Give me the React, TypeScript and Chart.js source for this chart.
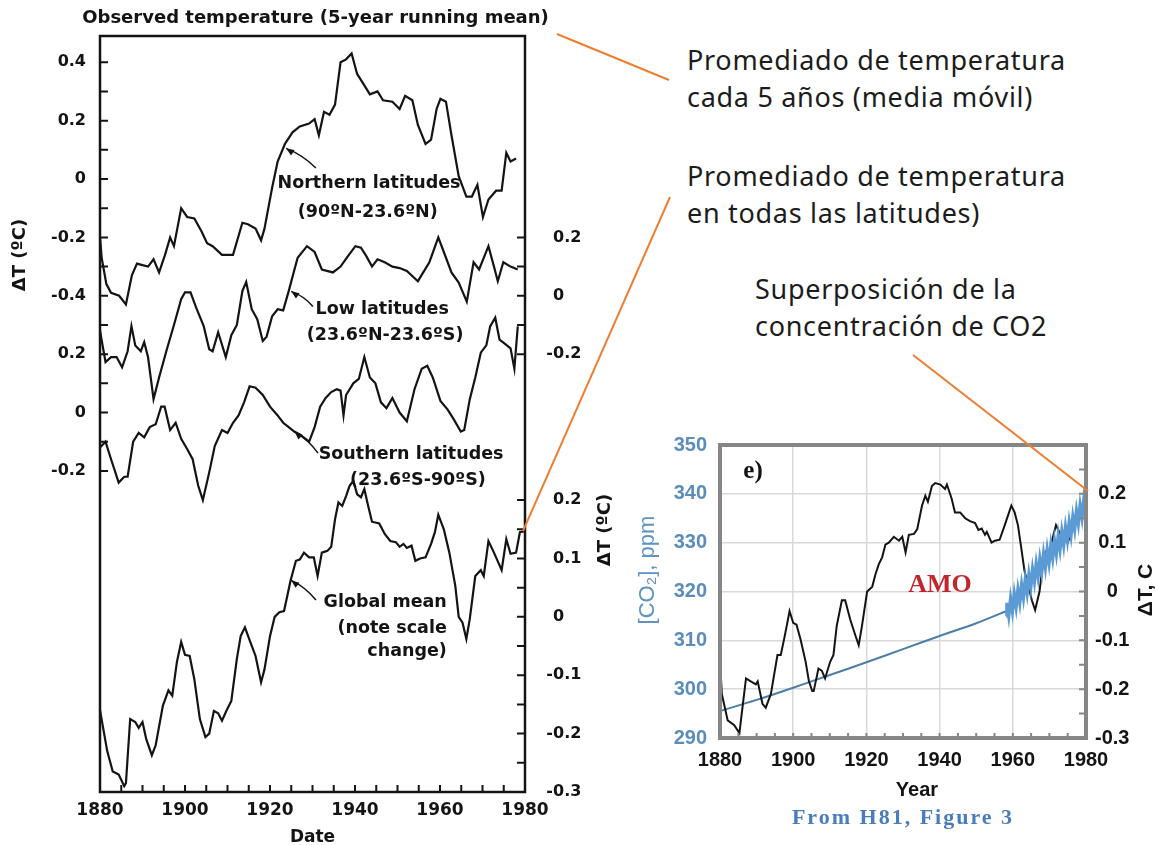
import React, { useEffect, useRef } from 'react';
import { Chart, registerables } from 'chart.js';

Chart.register(...registerables);

// ---------------- Left chart: observed temperature (5-year running mean) ----------------
const northYears = [
  1880, 1880.4, 1881.5, 1882.6, 1884.5, 1886.1, 1887.5, 1888.7, 1890.0, 1891.3,
  1892.6, 1893.9, 1895.3, 1896.5, 1897.4, 1899.1, 1900.5, 1902.2, 1903.9, 1905.2,
  1906.5, 1908.7, 1911.3, 1913.5, 1914.8, 1916.6, 1917.9, 1918.7, 1920.5, 1921.8,
  1923.5, 1925.3, 1927.0, 1929.2, 1930.5, 1931.5, 1932.7, 1934.0, 1935.3, 1936.6,
  1937.9, 1939.2, 1940.5, 1941.8, 1943.5, 1945.3, 1946.6, 1948.8, 1950.5, 1951.8,
  1953.5, 1954.8, 1956.6, 1957.9, 1959.2, 1960.1, 1961.4, 1962.7, 1964.4, 1966.2,
  1967.5, 1968.8, 1970.1, 1971.4, 1973.2, 1974.5, 1975.6, 1976.6, 1977.9,
];
const northValues = [
  -0.20, -0.27, -0.36, -0.39, -0.40, -0.43, -0.33, -0.29, -0.295, -0.30,
  -0.275, -0.32, -0.26, -0.20, -0.23, -0.10, -0.13, -0.135, -0.18, -0.22,
  -0.23, -0.26, -0.26, -0.15, -0.155, -0.17, -0.21, -0.17, -0.03, 0.06,
  0.12, 0.16, 0.18, 0.19, 0.205, 0.15, 0.23, 0.22, 0.255, 0.40,
  0.41, 0.43, 0.36, 0.33, 0.29, 0.30, 0.27, 0.265, 0.24, 0.285,
  0.27, 0.185, 0.12, 0.135, 0.24, 0.275, 0.265, 0.15, 0.01, -0.06,
  -0.06, -0.02, -0.13, -0.07, -0.04, -0.04, 0.09, 0.06, 0.07,
];

const lowYears = [
  1880, 1881.3, 1882.6, 1883.9, 1885.2, 1886.5, 1887.4, 1888.3, 1889.6, 1890.4,
  1891.3, 1892.6, 1893.9, 1895.7, 1897.4, 1899.1, 1900.0, 1901.3, 1902.6, 1904.4,
  1905.7, 1906.5, 1907.8, 1909.6, 1910.9, 1912.2, 1913.5, 1914.4, 1915.7, 1917.0,
  1918.3, 1919.2, 1920.5, 1921.8, 1923.1, 1924.4, 1926.5, 1928.7, 1930.5, 1932.2,
  1934.8, 1936.6, 1938.3, 1940.1, 1941.4, 1942.7, 1944.0, 1945.3, 1947.0, 1948.8,
  1950.5, 1952.2, 1954.8, 1957.5, 1959.6, 1960.9, 1962.7, 1964.4, 1966.3, 1967.9,
  1969.2, 1971.4, 1972.7, 1973.6, 1974.9, 1976.6, 1978.3,
];
const lowValues = [
  -0.12, -0.227, -0.21, -0.21, -0.245, -0.19, -0.104, -0.17, -0.19, -0.159,
  -0.21, -0.354, -0.28, -0.185, -0.10, -0.012, 0.012, 0.012, -0.04, -0.104,
  -0.183, -0.19, -0.125, -0.21, -0.135, -0.10, 0.016, 0.047, -0.046, -0.08,
  -0.155, -0.14, -0.07, -0.046, -0.05, 0.016, 0.13, 0.17, 0.15, 0.09,
  0.08, 0.10, 0.135, 0.17, 0.165, 0.135, 0.10, 0.125, 0.115, 0.10,
  0.095, 0.085, 0.05, 0.115, 0.20, 0.15, 0.08, 0.045, -0.02, 0.115,
  0.09, 0.17, 0.10, 0.05, 0.115, 0.10, 0.09,
];

const southYears = [
  1880, 1881.3, 1882.6, 1884.4, 1885.7, 1886.5, 1887.8, 1889.1, 1890.4, 1891.7,
  1893.1, 1894.4, 1895.2, 1896.5, 1897.8, 1899.1, 1900.5, 1901.8, 1903.1, 1904.2,
  1905.7, 1907.0, 1908.7, 1910.0, 1911.3, 1912.6, 1913.9, 1915.2, 1916.6, 1918.3,
  1920.0, 1921.8, 1923.1, 1924.4, 1925.7, 1927.0, 1929.2, 1930.5, 1931.8, 1933.1,
  1934.4, 1935.7, 1936.6, 1937.3, 1937.9, 1939.6, 1940.9, 1942.2, 1943.5, 1944.8,
  1946.1, 1947.4, 1948.8, 1950.5, 1952.2, 1954.0, 1955.7, 1957.0, 1958.3, 1960.1,
  1961.8, 1963.1, 1964.9, 1965.7, 1967.0, 1968.3, 1969.6, 1970.9, 1971.8, 1973.0,
  1974.0, 1975.3, 1976.6, 1977.5, 1978.3,
];
const southValues = [
  -0.12, -0.10, -0.16, -0.24, -0.22, -0.22, -0.10, -0.07, -0.085, -0.05,
  -0.04, 0.02, 0.02, -0.06, -0.035, -0.09, -0.125, -0.16, -0.25, -0.30,
  -0.205, -0.115, -0.06, -0.07, -0.035, -0.01, 0.035, 0.09, 0.085, 0.06,
  0.02, -0.01, -0.035, -0.05, -0.065, -0.075, -0.10, -0.05, 0.02, 0.05,
  0.07, 0.08, 0.075, -0.01, 0.06, 0.10, 0.115, 0.19, 0.12, 0.10,
  0.035, 0.015, 0.05, 0.0, -0.03, 0.08, 0.15, 0.16, 0.12, 0.04,
  0.01, -0.02, -0.065, -0.06, 0.045, 0.12, 0.205, 0.23, 0.295, 0.325,
  0.25, 0.235, 0.22, 0.15, 0.295,
];

const globalYears = [
  1880, 1881.7, 1883.0, 1884.4, 1885.7, 1886.1, 1887.1, 1888.3, 1889.1, 1890.0,
  1890.9, 1892.2, 1893.1, 1894.8, 1896.1, 1897.0, 1898.1, 1899.1, 1900.0, 1901.1,
  1902.2, 1903.5, 1904.8, 1905.7, 1906.8, 1907.8, 1908.7, 1909.8, 1910.9, 1912.2,
  1913.1, 1914.1, 1915.2, 1916.6, 1917.9, 1918.7, 1920.0, 1921.1, 1922.2, 1923.3,
  1923.9, 1924.8, 1926.1, 1927.0, 1928.0, 1929.2, 1930.3, 1931.2, 1932.2, 1933.5,
  1934.4, 1935.3, 1936.1, 1937.0, 1937.9, 1938.7, 1939.6, 1940.5, 1941.4, 1942.2,
  1943.1, 1944.0, 1945.7, 1947.0, 1948.3, 1949.6, 1950.5, 1951.4, 1952.2, 1953.3,
  1954.2, 1955.3, 1956.6, 1957.9, 1958.8, 1959.6, 1960.9, 1962.2, 1963.6, 1964.4,
  1965.3, 1966.2, 1967.0, 1968.3, 1969.6, 1970.3, 1971.4, 1972.7, 1974.5, 1975.6,
  1976.6, 1977.9, 1978.8, 1980.0,
];
const globalValues = [
  -0.16, -0.23, -0.265, -0.27, -0.29, -0.285, -0.175, -0.18, -0.19, -0.18,
  -0.21, -0.237, -0.22, -0.152, -0.126, -0.135, -0.077, -0.043, -0.065, -0.067,
  -0.107, -0.175, -0.206, -0.20, -0.161, -0.165, -0.178, -0.16, -0.144, -0.072,
  -0.033, -0.018, -0.04, -0.067, -0.112, -0.09, -0.033, 0.0, 0.008, 0.01,
  0.03, 0.061, 0.096, 0.098, 0.11, 0.102, 0.102, 0.07, 0.11, 0.113,
  0.12, 0.167, 0.196, 0.19, 0.207, 0.224, 0.233, 0.21, 0.205, 0.219,
  0.19, 0.163, 0.16, 0.142, 0.13, 0.128, 0.12, 0.125, 0.118, 0.122,
  0.096, 0.10, 0.102, 0.125, 0.145, 0.175, 0.15, 0.11, 0.053, 0.0,
  -0.01, -0.038, -0.004, 0.07, 0.08, 0.07, 0.13, 0.11, 0.08, 0.133,
  0.108, 0.11, 0.145, 0.147,
];

// stacking of the four curves on one common axis (northern-latitude units)
const northOffset = 0;
const lowOffset = -0.4;
const southOffset = -0.8;
const globalOffset = -1.5;
const globalFactor = 2; // "note scale change"
const axisMin = -2.1;
const axisMax = 0.49;

const xTickYears = [1880, 1885, 1890, 1895, 1900, 1905, 1910, 1915, 1920, 1925, 1930, 1935, 1940, 1945, 1950, 1955, 1960, 1965, 1970, 1975, 1980];
const xLabelYears = [1880, 1900, 1920, 1940, 1960, 1980];

const northTicks = [0.4, 0.3, 0.2, 0.1, 0, -0.1, -0.2, -0.3, -0.4];
const northTickLabels = ['0.4', '', '0.2', '', '0', '', '-0.2', '', '-0.4'];
const southTicks = [0.3, 0.2, 0.1, 0, -0.1, -0.2];
const southTickLabels = ['', '0.2', '', '0', '', '-0.2'];
const lowTicks = [0.2, 0.1, 0, -0.1, -0.2];
const lowTickLabels = ['0.2', '', '0', '', '-0.2'];
const globalTicks = [0.2, 0.15, 0.1, 0.05, 0, -0.05, -0.1, -0.15, -0.2, -0.25, -0.3];
const globalTickLabels = ['0.2', '', '0.1', '', '0', '', '-0.1', '', '-0.2', '', '-0.3'];

// ---------------- Inset (e): H81 Figure 3 with CO2 ----------------
const insetTempYears = [
  1880.0, 1880.5, 1882.1, 1883.9, 1885.3, 1887.1, 1888.4, 1889.8, 1890.3, 1891.6,
  1892.5, 1893.9, 1894.8, 1895.7, 1896.6, 1897.5, 1898.4, 1899.0, 1900.0, 1900.9,
  1902.0, 1903.4, 1904.3, 1905.2, 1905.6, 1906.9, 1907.8, 1908.7, 1910.1, 1911.0,
  1911.9, 1913.3, 1914.2, 1915.6, 1917.0, 1917.9, 1918.8, 1920.2, 1921.6, 1922.5,
  1923.4, 1924.3, 1925.2, 1926.1, 1927.5, 1928.9, 1929.8, 1930.7, 1931.6, 1933.0,
  1933.9, 1935.2, 1936.1, 1936.8, 1937.9, 1938.8, 1940.2, 1941.5, 1942.0, 1943.3,
  1944.2, 1945.6, 1947.0, 1948.3, 1949.7, 1950.6, 1951.5, 1952.4, 1952.9, 1954.2,
  1955.1, 1956.4, 1957.8, 1958.7, 1959.6, 1960.5, 1961.4, 1962.3, 1963.2, 1964.1,
  1965.2, 1966.1, 1967.3, 1968.2, 1969.1, 1970.0, 1970.9, 1971.8, 1972.7, 1973.6,
  1975.0, 1976.5, 1978.0,
];
const insetTempValues = [
  -0.14, -0.21, -0.264, -0.274, -0.29, -0.178, -0.184, -0.19, -0.184, -0.23,
  -0.238, -0.21, -0.17, -0.13, -0.13, -0.098, -0.064, -0.04, -0.064, -0.068,
  -0.098, -0.144, -0.184, -0.204, -0.204, -0.158, -0.162, -0.178, -0.144, -0.13,
  -0.07, -0.018, -0.018, -0.058, -0.09, -0.11, -0.07, 0.0, 0.01, 0.036,
  0.056, 0.07, 0.096, 0.1, 0.112, 0.104, 0.112, 0.08, 0.116, 0.118,
  0.128, 0.176, 0.196, 0.184, 0.216, 0.222, 0.219, 0.21, 0.219, 0.19,
  0.162, 0.162, 0.15, 0.144, 0.14, 0.126, 0.129, 0.116, 0.122, 0.1,
  0.104, 0.106, 0.136, 0.156, 0.176, 0.162, 0.136, 0.09, 0.042, 0.016,
  -0.018, -0.038, 0.0, 0.056, 0.082, 0.082, 0.11, 0.136, 0.122, 0.11,
  0.10, 0.13, 0.15,
];

const co2Years = [1880, 1890, 1900, 1910, 1920, 1930, 1940, 1950, 1958.3];
const co2Values = [295.5, 297.8, 300.3, 302.9, 305.5, 308.2, 310.9, 313.5, 316.0];

const co2MaunaYears = [
  1958.2, 1958.4, 1958.9, 1959.4, 1959.9, 1960.4, 1960.9, 1961.4, 1961.9, 1962.4,
  1962.9, 1963.4, 1963.9, 1964.4, 1964.9, 1965.4, 1965.9, 1966.4, 1966.9, 1967.4,
  1967.9, 1968.4, 1968.9, 1969.4, 1969.9, 1970.4, 1970.9, 1971.4, 1971.9, 1972.4,
  1972.9, 1973.4, 1973.9, 1974.4, 1974.9, 1975.4, 1975.9, 1976.4, 1976.9, 1977.4,
  1977.9, 1978.4, 1978.9, 1979.4, 1979.9, 1980.0,
];
const co2MaunaValues = [
  315.0, 317.7, 315.1, 318.5, 316.0, 319.4, 316.9, 320.3, 317.8, 321.3,
  318.8, 322.3, 319.8, 323.4, 320.9, 324.5, 322.1, 325.6, 323.1, 326.6,
  324.1, 327.6, 325.0, 328.5, 325.9, 329.4, 326.9, 330.3, 327.8, 331.3,
  328.7, 332.2, 329.6, 333.1, 330.6, 334.1, 331.6, 335.2, 332.8, 336.4,
  334.0, 337.6, 335.2, 338.7, 336.3, 339.0,
];

const insetYearTicks = [1880, 1885, 1890, 1895, 1900, 1905, 1910, 1915, 1920, 1925, 1930, 1935, 1940, 1945, 1950, 1955, 1960, 1965, 1970, 1975, 1980];
const insetYearLabels = [1880, 1900, 1920, 1940, 1960, 1980];
const co2Ticks = [290, 300, 310, 320, 330, 340, 350];
const insetTempTicks = [-0.3, -0.25, -0.2, -0.15, -0.1, -0.05, 0, 0.05, 0.1, 0.15, 0.2, 0.25, 0.3];
const insetTempTickLabels = ['-0.3', '', '-0.2', '', '-0.1', '', '0', '', '0.1', '', '0.2', '', ''];

// ---------------- helpers ----------------
const DEJAVU = '"DejaVu Sans", "Liberation Sans", sans-serif';
const ARIAL = '"Liberation Sans", Arial, sans-serif';
const SERIF = '"Liberation Serif", "DejaVu Serif", serif';
const INK = '#141414';

function pts(years: number[], values: number[], offset = 0, factor = 1) {
  return years.map((x, i) => ({ x, y: offset + factor * values[i] }));
}

function key(v: number) {
  return (Math.abs(v) < 1e-9 ? 0 : v).toFixed(3);
}

function drawArrow(ctx: CanvasRenderingContext2D, x1: number, y1: number, x2: number, y2: number) {
  ctx.beginPath();
  ctx.moveTo(x1, y1);
  ctx.quadraticCurveTo((x1 + x2) / 2 + 2, (y1 + y2) / 2 - 3, x2, y2);
  ctx.stroke();
  const ang = Math.atan2(y2 - y1, x2 - x1);
  const L = 8;
  const W = 3.2;
  ctx.beginPath();
  ctx.moveTo(x2, y2);
  ctx.lineTo(x2 - L * Math.cos(ang) + W * Math.sin(ang), y2 - L * Math.sin(ang) - W * Math.cos(ang));
  ctx.lineTo(x2 - L * Math.cos(ang) - W * Math.sin(ang), y2 - L * Math.sin(ang) + W * Math.cos(ang));
  ctx.closePath();
  ctx.fill();
}

function buildLeftChart(canvas: HTMLCanvasElement) {
  const leftMap = new Map<string, string>();
  northTicks.forEach((v, i) => leftMap.set(key(northOffset + v), northTickLabels[i]));
  southTicks.forEach((v, i) => leftMap.set(key(southOffset + v), southTickLabels[i]));
  const leftValues = Array.from(leftMap.keys()).map(Number).sort((a, b) => a - b);

  const rightItems: { value: number; label: string }[] = [];
  lowTicks.forEach((v, i) => rightItems.push({ value: lowOffset + v, label: lowTickLabels[i] }));
  globalTicks.forEach((v, i) => rightItems.push({ value: globalOffset + globalFactor * v, label: globalTickLabels[i] }));
  rightItems.sort((a, b) => a.value - b.value);

  const lineStyle = { borderColor: INK, borderWidth: 2.2, pointRadius: 0, fill: false, tension: 0 };

  const decor = {
    id: 'leftDecor',
    afterDraw(chart: any) {
      const { ctx, chartArea: a, scales } = chart;
      const xs = scales.x;
      const ys = scales.y;
      const y2 = scales.y2;
      const px = (v: number) => xs.getPixelForValue(v);
      const py = (v: number) => ys.getPixelForValue(v);
      ctx.save();
      ctx.strokeStyle = INK;
      ctx.fillStyle = INK;
      // frame
      ctx.lineWidth = 2.5;
      ctx.strokeRect(a.left, a.top, a.right - a.left, a.bottom - a.top);
      // inward tick marks
      ctx.lineWidth = 2;
      ctx.beginPath();
      ys.ticks.forEach((t: any) => {
        const y = ys.getPixelForValue(t.value);
        ctx.moveTo(a.left, y);
        ctx.lineTo(a.left + 8, y);
      });
      y2.ticks.forEach((t: any) => {
        const y = y2.getPixelForValue(t.value);
        ctx.moveTo(a.right, y);
        ctx.lineTo(a.right - 8, y);
      });
      xs.ticks.forEach((t: any) => {
        const x = xs.getPixelForValue(t.value);
        ctx.moveTo(x, a.bottom);
        ctx.lineTo(x, a.bottom - 7);
      });
      ctx.stroke();

      // right-hand tick labels (digits aligned, minus hanging)
      ctx.font = `bold 16px ${DEJAVU}`;
      ctx.textAlign = 'left';
      ctx.textBaseline = 'middle';
      const minusW = ctx.measureText('-').width;
      rightItems.forEach((it) => {
        if (!it.label) return;
        let x = a.right + 28;
        if (it.label.startsWith('-')) x -= minusW;
        ctx.fillText(it.label, x, y2.getPixelForValue(it.value));
      });

      // title
      ctx.font = `bold 18px ${DEJAVU}`;
      ctx.textAlign = 'center';
      ctx.fillText('Observed temperature (5-year running mean)', (a.left + a.right) / 2 + 3, 18);

      // axis titles
      ctx.font = `bold 17px ${DEJAVU}`;
      ctx.fillText('Date', (a.left + a.right) / 2, 838);
      ctx.save();
      ctx.translate(20, 255);
      ctx.rotate(-Math.PI / 2);
      ctx.font = `bold 18px ${DEJAVU}`;
      ctx.fillText('ΔT (ºC)', 0, 0);
      ctx.restore();
      ctx.save();
      ctx.translate(a.right + 80, 530);
      ctx.rotate(-Math.PI / 2);
      ctx.font = `bold 18px ${DEJAVU}`;
      ctx.fillText('ΔT (ºC)', 0, 0);
      ctx.restore();

      // curve annotations
      ctx.font = `bold 17.5px ${DEJAVU}`;
      ctx.textAlign = 'center';
      ctx.fillText('Northern latitudes', px(1943.3), py(-0.014));
      ctx.fillText('(90ºN-23.6ºN)', px(1943.0), py(-0.113));
      ctx.fillText('Low latitudes', px(1946.4), py(-0.448));
      ctx.fillText('(23.6ºN-23.6ºS)', px(1947.1), py(-0.537));
      ctx.fillText('Southern latitudes', px(1953.2), py(-0.945));
      ctx.fillText('(23.6ºS-90ºS)', px(1954.8), py(-1.031));
      ctx.textAlign = 'right';
      ctx.fillText('Global mean', px(1961.6), py(-1.449));
      ctx.fillText('(note scale', px(1961.6), py(-1.538));
      ctx.fillText('change)', px(1961.6), py(-1.62));

      ctx.lineWidth = 1.5;
      drawArrow(ctx, px(1930.8), py(0.038), px(1923.8), py(0.105));
      drawArrow(ctx, px(1930.1), py(-0.437), px(1925.0), py(-0.385));
      drawArrow(ctx, px(1931.3), py(-0.939), px(1925.8), py(-0.866));
      drawArrow(ctx, px(1930.8), py(-1.442), px(1925.0), py(-1.375));
      ctx.restore();
    },
  };

  return new Chart(canvas, {
    type: 'line',
    data: {
      datasets: [
        { label: 'Northern latitudes (90ºN-23.6ºN)', data: pts(northYears, northValues, northOffset), yAxisID: 'y', ...lineStyle },
        { label: 'Low latitudes (23.6ºN-23.6ºS)', data: pts(lowYears, lowValues, lowOffset), yAxisID: 'y', ...lineStyle },
        { label: 'Southern latitudes (23.6ºS-90ºS)', data: pts(southYears, southValues, southOffset), yAxisID: 'y', ...lineStyle },
        { label: 'Global mean', data: pts(globalYears, globalValues, globalOffset, globalFactor), yAxisID: 'y', ...lineStyle },
      ],
    },
    options: {
      responsive: false,
      animation: false,
      devicePixelRatio: 1,
      layout: { padding: { top: 36, left: 0, right: 0, bottom: 0 } },
      plugins: { legend: { display: false }, tooltip: { enabled: false }, title: { display: false } },
      scales: {
        x: {
          type: 'linear',
          min: 1880,
          max: 1980,
          afterBuildTicks: (s: any) => { s.ticks = xTickYears.map((value) => ({ value })); },
          afterFit: (s: any) => { s.height = 53; },
          ticks: {
            callback: (v: any) => (xLabelYears.includes(Number(v)) ? String(v) : ''),
            font: { family: DEJAVU, size: 17, weight: 'bold' },
            color: INK,
            padding: 8,
            maxRotation: 0,
            autoSkip: false,
          },
          grid: { display: false, drawTicks: false },
          border: { display: false },
        },
        y: {
          type: 'linear',
          position: 'left',
          min: axisMin,
          max: axisMax,
          afterBuildTicks: (s: any) => { s.ticks = leftValues.map((value) => ({ value })); },
          afterFit: (s: any) => { s.width = 100; },
          ticks: {
            callback: (v: any) => leftMap.get(key(Number(v))) ?? '',
            font: { family: DEJAVU, size: 16, weight: 'bold' },
            color: INK,
            padding: 14,
            autoSkip: false,
          },
          grid: { display: false, drawTicks: false },
          border: { display: false },
        },
        y2: {
          type: 'linear',
          position: 'right',
          min: axisMin,
          max: axisMax,
          afterBuildTicks: (s: any) => { s.ticks = rightItems.map((it) => ({ value: it.value })); },
          afterFit: (s: any) => { s.width = 115; },
          ticks: { display: false, autoSkip: false },
          grid: { display: false, drawTicks: false },
          border: { display: false },
        },
      },
    } as any,
    plugins: [decor],
  } as any);
}

function buildInsetChart(canvas: HTMLCanvasElement) {
  const tempMap = new Map<string, string>();
  insetTempTicks.forEach((v, i) => tempMap.set(key(v), insetTempTickLabels[i]));
  const GRAY = '#868686';

  const decor = {
    id: 'insetDecor',
    afterDatasetsDraw(chart: any) {
      const { ctx, chartArea: a, scales } = chart;
      ctx.save();
      ctx.strokeStyle = GRAY;
      ctx.lineWidth = 2;
      ctx.beginPath();
      scales.y2.ticks.forEach((t: any) => {
        const y = scales.y2.getPixelForValue(t.value);
        ctx.moveTo(a.right, y);
        ctx.lineTo(a.right - 7, y);
      });
      scales.x.ticks.forEach((t: any) => {
        const x = scales.x.getPixelForValue(t.value);
        ctx.moveTo(x, a.bottom);
        ctx.lineTo(x, a.bottom - 5);
      });
      ctx.stroke();
      ctx.lineWidth = 4;
      ctx.strokeRect(a.left, a.top, a.right - a.left, a.bottom - a.top);
      ctx.restore();
    },
    afterDraw(chart: any) {
      const { ctx, chartArea: a } = chart;
      ctx.save();
      ctx.textAlign = 'center';
      ctx.textBaseline = 'middle';
      // panel letter and AMO label
      ctx.fillStyle = INK;
      ctx.font = `bold 25px ${SERIF}`;
      ctx.fillText('e)', a.left + 33, a.top + 27);
      ctx.fillStyle = '#c0272d';
      ctx.font = `bold 26px ${SERIF}`;
      ctx.fillText('AMO', a.left + 220, a.top + 140);
      // axis titles
      ctx.fillStyle = INK;
      ctx.font = `bold 20px ${ARIAL}`;
      ctx.fillText('Year', a.left + 197, a.bottom + 52);
      ctx.save();
      ctx.translate(a.right + 60, a.top + 145);
      ctx.rotate(-Math.PI / 2);
      ctx.font = `bold 21px ${ARIAL}`;
      ctx.fillText('ΔT, C', 0, 0);
      ctx.restore();
      ctx.save();
      ctx.translate(28, a.top + 125);
      ctx.rotate(-Math.PI / 2);
      ctx.fillStyle = '#5f92c0';
      ctx.font = `22px ${ARIAL}`;
      ctx.fillText('[CO₂], ppm', 0, 0);
      ctx.restore();
      // caption
      ctx.fillStyle = '#4a7ebb';
      ctx.font = `bold 22px ${SERIF}`;
      (ctx as any).letterSpacing = '2px';
      ctx.fillText('From H81, Figure 3', a.left + 183, a.bottom + 80);
      ctx.restore();
    },
  };

  return new Chart(canvas, {
    type: 'line',
    data: {
      datasets: [
        { label: 'CO2 Mauna Loa', data: pts(co2MaunaYears, co2MaunaValues), yAxisID: 'y', borderColor: '#5b9bd5', borderWidth: 3.5, pointRadius: 0, tension: 0, order: 0 },
        { label: 'ΔT, C', data: pts(insetTempYears, insetTempValues), yAxisID: 'y2', borderColor: INK, borderWidth: 2, pointRadius: 0, tension: 0, order: 1 },
        { label: '[CO2], ppm', data: pts(co2Years, co2Values), yAxisID: 'y', borderColor: '#4d7fa6', borderWidth: 2, pointRadius: 0, tension: 0.3, order: 2 },
      ],
    },
    options: {
      responsive: false,
      animation: false,
      devicePixelRatio: 1,
      layout: { padding: { top: 19, left: 0, right: 0, bottom: 0 } },
      plugins: { legend: { display: false }, tooltip: { enabled: false }, title: { display: false } },
      scales: {
        x: {
          type: 'linear',
          min: 1880,
          max: 1980,
          afterBuildTicks: (s: any) => { s.ticks = insetYearTicks.map((value) => ({ value })); },
          afterFit: (s: any) => { s.height = 107; },
          ticks: {
            callback: (v: any) => (insetYearLabels.includes(Number(v)) ? String(v) : ''),
            font: { family: ARIAL, size: 20, weight: 'bold' },
            color: INK,
            padding: 10,
            maxRotation: 0,
            autoSkip: false,
          },
          grid: {
            drawTicks: false,
            lineWidth: 1.5,
            color: (c: any) => (c.tick && Number(c.tick.value) % 20 === 0 ? '#d9d9d9' : 'rgba(0,0,0,0)'),
          },
          border: { display: false },
        },
        y: {
          type: 'linear',
          position: 'left',
          min: 290,
          max: 350,
          afterBuildTicks: (s: any) => { s.ticks = co2Ticks.map((value) => ({ value })); },
          afterFit: (s: any) => { s.width = 100; },
          ticks: {
            font: { family: ARIAL, size: 20, weight: 'bold' },
            color: '#5b8dbb',
            padding: 13,
            autoSkip: false,
          },
          grid: { drawTicks: false, lineWidth: 1.5, color: '#d9d9d9' },
          border: { display: false },
        },
        y2: {
          type: 'linear',
          position: 'right',
          min: -0.3,
          max: 0.3,
          afterBuildTicks: (s: any) => { s.ticks = insetTempTicks.map((value) => ({ value })); },
          afterFit: (s: any) => { s.width = 69; },
          ticks: {
            callback: (v: any) => tempMap.get(key(Number(v))) ?? '',
            font: { family: ARIAL, size: 20, weight: 'bold' },
            color: INK,
            padding: 9,
            crossAlign: 'center',
            autoSkip: false,
          },
          grid: { display: false, drawTicks: false },
          border: { display: false },
        },
      },
    } as any,
    plugins: [decor],
  } as any);
}

const noteStyle: React.CSSProperties = {
  position: 'absolute',
  fontFamily: '"Noto Sans", "Open Sans", sans-serif',
  fontSize: 27,
  lineHeight: '37px',
  letterSpacing: '0.7px',
  color: '#1c1c1c',
  whiteSpace: 'nowrap',
};

export default function App() {
  const leftRef = useRef<HTMLCanvasElement>(null);
  const insetRef = useRef<HTMLCanvasElement>(null);

  useEffect(() => {
    document.body.style.margin = '0';
    const c1 = buildLeftChart(leftRef.current as HTMLCanvasElement);
    const c2 = buildInsetChart(insetRef.current as HTMLCanvasElement);
    return () => {
      c1.destroy();
      c2.destroy();
    };
  }, []);

  return (
    <div style={{ position: 'relative', width: 1155, height: 845, overflow: 'hidden', background: '#ffffff' }}>
      <canvas ref={leftRef} width={640} height={845} style={{ position: 'absolute', left: 0, top: 0 }} />
      <canvas ref={insetRef} width={535} height={425} style={{ position: 'absolute', left: 620, top: 420 }} />
      <div style={{ ...noteStyle, left: 687, top: 41 }}>
        Promediado de temperatura
        <br />
        cada 5 años (media móvil)
      </div>
      <div style={{ ...noteStyle, left: 687, top: 157 }}>
        Promediado de temperatura
        <br />
        en todas las latitudes)
      </div>
      <div style={{ ...noteStyle, left: 755, top: 270 }}>
        Superposición de la
        <br />
        concentración de CO2
      </div>
      <svg width={1155} height={845} style={{ position: 'absolute', left: 0, top: 0, pointerEvents: 'none' }}>
        <line x1={557} y1={34} x2={669} y2={80} stroke="#ed7d31" strokeWidth={2} />
        <line x1={670} y1={197} x2={523} y2={531} stroke="#ed7d31" strokeWidth={2} />
        <line x1={913} y1={355} x2={1088} y2={491} stroke="#ed7d31" strokeWidth={2} />
      </svg>
    </div>
  );
}
